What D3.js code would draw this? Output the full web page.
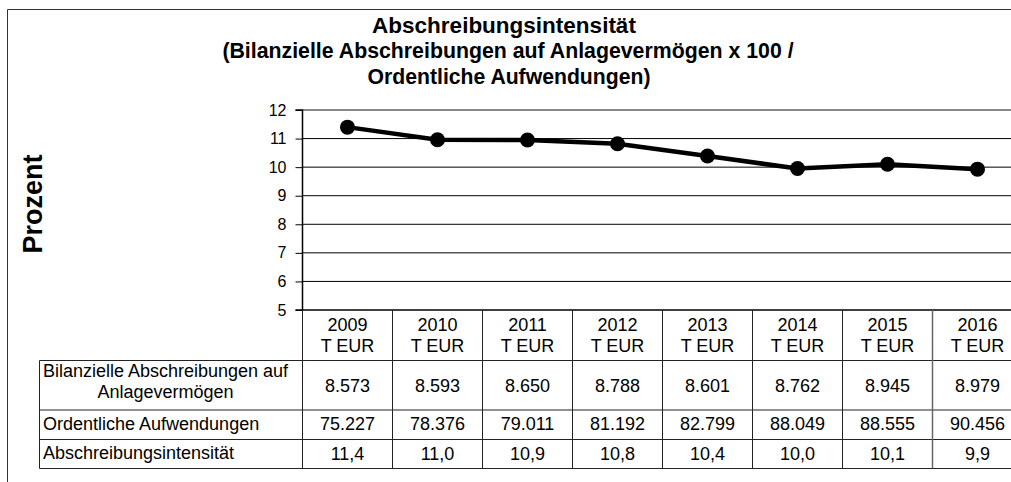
<!DOCTYPE html>
<html><head><meta charset="utf-8">
<script src="https://cdn.jsdelivr.net/npm/d3@7"></script>
<style>
html,body{margin:0;padding:0;background:#fff;overflow:hidden}
svg{display:block;font-family:"Liberation Sans",Arial,sans-serif}
</style></head>
<body>
<svg id="c" width="1011" height="482"></svg>
<script>
const years = ["2009","2010","2011","2012","2013","2014","2015","2016"];
const intensity = [11.40, 10.96, 10.95, 10.82, 10.39, 9.95, 10.10, 9.93];
const rowLabels = [["Bilanzielle Abschreibungen auf","Anlagevermögen"],["Ordentliche Aufwendungen"],["Abschreibungsintensität"]];
const abschreibungen = ["8.573","8.593","8.650","8.788","8.601","8.762","8.945","8.979"];
const aufwendungen = ["75.227","78.376","79.011","81.192","82.799","88.049","88.555","90.456"];
const intensitaetText = ["11,4","11,0","10,9","10,8","10,4","10,0","10,1","9,9"];
const yTicks = [5,6,7,8,9,10,11,12];
const titleLines = ["Abschreibungsintensität","(Bilanzielle Abschreibungen auf Anlagevermögen x 100 /","Ordentliche Aufwendungen)"];

const svg = d3.select("#c");
const plotLeft = 302.5, colW = 90, plotTop = 110, plotBottom = 310;
const x = d3.scaleBand().domain(years).range([plotLeft, plotLeft + colW*years.length]).padding(0);
const y = d3.scaleLinear().domain([5,12]).range([plotBottom, plotTop]);
const plotRight = plotLeft + colW*years.length;

// outer frame
svg.append("path").attr("d","M7.5,490 V9.5 H1030").attr("fill","none").attr("stroke","#333").attr("stroke-width",1);

// title
const tcx = 508;
svg.append("text").attr("x",tcx-4).attr("y",33).attr("text-anchor","middle").attr("font-weight","bold").attr("font-size",22.5).text(titleLines[0]);
svg.append("text").attr("x",tcx).attr("y",58).attr("text-anchor","middle").attr("font-weight","bold").attr("font-size",21.3).text(titleLines[1]);
svg.append("text").attr("x",tcx+1).attr("y",84).attr("text-anchor","middle").attr("font-weight","bold").attr("font-size",21.2).text(titleLines[2]);

// y label
svg.append("text").attr("transform","translate(42,204) rotate(-90)").attr("text-anchor","middle").attr("font-weight","bold").attr("font-size",27).text("Prozent");

// gridlines
svg.append("g").selectAll("line").data(yTicks.filter(t=>t>5 && t<12)).join("line")
  .attr("x1",plotLeft).attr("x2",plotRight).attr("y1",d=>y(d)).attr("y2",d=>y(d)).attr("stroke","#000").attr("stroke-width",1);
svg.append("line").attr("x1",plotLeft).attr("x2",plotRight).attr("y1",y(12)).attr("y2",y(12)).attr("stroke","#888").attr("stroke-width",2);

// y axis
const yAxis = d3.axisLeft(y).tickValues(yTicks).tickFormat(d3.format("d")).tickSize(7).tickPadding(9);
const ga = svg.append("g").attr("transform",`translate(${plotLeft},0)`).call(yAxis);
ga.select(".domain").attr("stroke","#000").attr("stroke-width",1.5).attr("d",`M-7,${y(12)}H0V${y(5)}H-7`);
ga.selectAll(".tick line").attr("stroke","#000");
ga.selectAll("text").attr("font-size",16).attr("font-family","'Liberation Sans',Arial,sans-serif").attr("fill","#000");

// line
const line = d3.line().x((d,i)=>x(years[i])+colW/2).y(d=>y(d));
svg.append("path").datum(intensity).attr("d",line).attr("fill","none").attr("stroke","#000").attr("stroke-width",4.5);
svg.append("g").selectAll("circle").data(intensity).join("circle")
  .attr("cx",(d,i)=>x(years[i])+colW/2).attr("cy",d=>y(d)).attr("r",7.5).attr("fill","#000");

// table
const rowY = [310, 360.5, 410, 439.5, 468.5];
const labelLeft = 39.5;
const tg = svg.append("g").attr("stroke","#222").attr("stroke-width",1);
tg.append("line").attr("x1",plotLeft).attr("x2",plotRight).attr("y1",rowY[0]).attr("y2",rowY[0]).attr("stroke","#000").attr("stroke-width",1.5);
for (let k=1;k<rowY.length;k++) tg.append("line").attr("x1",labelLeft).attr("x2",plotRight).attr("y1",rowY[k]).attr("y2",rowY[k]);
tg.append("line").attr("x1",labelLeft).attr("x2",labelLeft).attr("y1",rowY[1]).attr("y2",rowY[4]);
tg.append("line").attr("x1",plotLeft).attr("x2",plotLeft).attr("y1",rowY[0]).attr("y2",rowY[4]);
years.forEach(yr=>{
  const xr = x(yr)+colW;
  tg.append("line").attr("x1",xr).attr("x2",xr).attr("y1",rowY[0]).attr("y2",rowY[4]).attr("stroke",yr==="2015"?"#666":"#222").attr("stroke-width",yr==="2015"?1.5:1);
});

const fs = 18;
years.forEach(yr=>{
  const cx = x(yr)+colW/2;
  svg.append("text").attr("x",cx).attr("y",331).attr("text-anchor","middle").attr("font-size",fs).text(yr);
  svg.append("text").attr("x",cx).attr("y",352).attr("text-anchor","middle").attr("font-size",fs).text("T EUR");
});
svg.append("text").attr("x",165.5).attr("y",377).attr("text-anchor","middle").attr("font-size",fs).text(rowLabels[0][0]);
svg.append("text").attr("x",165.5).attr("y",398).attr("text-anchor","middle").attr("font-size",fs).text(rowLabels[0][1]);
svg.append("text").attr("x",43).attr("y",430).attr("font-size",fs).text(rowLabels[1][0]);
svg.append("text").attr("x",43).attr("y",459).attr("font-size",fs).text(rowLabels[2][0]);
const rowsData = [abschreibungen, aufwendungen, intensitaetText];
const rowTextY = [391.5, 430, 459.5];
rowsData.forEach((arr,r)=>{
  svg.append("g").selectAll("text").data(arr).join("text")
    .attr("x",(d,i)=>x(years[i])+colW/2).attr("y",rowTextY[r]).attr("text-anchor","middle").attr("font-size",fs).text(d=>d);
});
</script>
</body></html>
